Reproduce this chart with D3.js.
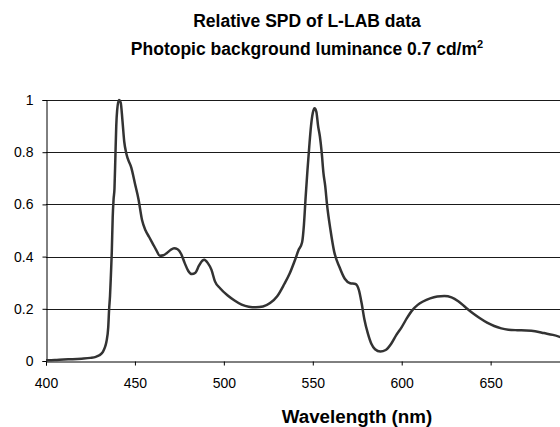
<!DOCTYPE html>
<html>
<head>
<meta charset="utf-8">
<script src="https://cdn.jsdelivr.net/npm/d3@7"></script>
<style>
  html, body { margin: 0; padding: 0; background: #fff; }
  svg { display: block; }
  text { font-family: "Liberation Sans", Arial, sans-serif; fill: #000; }
</style>
</head>
<body>
<svg id="chart" width="560" height="427"></svg>
<script>
const titleLine1 = "Relative SPD of L-LAB data";
const titleLine2 = "Photopic background luminance 0.7 cd/m";
const xAxisTitle = "Wavelength (nm)";
const xTicks = [400, 450, 500, 550, 600, 650];
const yTicks = [0, 0.2, 0.4, 0.6, 0.8, 1];
const wavelength = [400,405,410,415,420,425,428,430,432,433,434,435,435.5,436,436.5,437,437.5,438,438.5,439,439.5,440,441,442,443,444,445,446,448,450,452,454,456,458,460,462,464,466,468,470,472,474,476,478,480,482,484,486,488,489,491,493,495,498,502,506,510,514,518,522,526,530,534,537,540,542,544,545,546,547,548,549,550,551,552,553,554,555,556,557,558,560,562,565,568,571,574,576,577.5,579,581,583,585,588,591,594,597,600,603,606,609,612,616,620,624,628,632,636,640,644,648,652,656,660,665,670,675,680,685,690];
const spd = [0.003,0.004,0.006,0.007,0.009,0.012,0.016,0.022,0.035,0.05,0.075,0.13,0.2,0.25,0.33,0.42,0.55,0.62,0.66,0.78,0.9,0.96,1.0,0.99,0.92,0.84,0.8,0.775,0.74,0.68,0.62,0.54,0.5,0.475,0.45,0.425,0.403,0.405,0.414,0.425,0.432,0.428,0.41,0.375,0.345,0.333,0.338,0.365,0.385,0.388,0.375,0.35,0.305,0.278,0.252,0.232,0.216,0.208,0.206,0.209,0.222,0.248,0.295,0.335,0.387,0.425,0.455,0.52,0.63,0.73,0.82,0.9,0.95,0.968,0.955,0.9,0.86,0.8,0.72,0.67,0.6,0.5,0.42,0.36,0.315,0.298,0.295,0.27,0.22,0.16,0.105,0.065,0.045,0.036,0.042,0.065,0.1,0.13,0.165,0.195,0.215,0.228,0.24,0.247,0.249,0.244,0.228,0.205,0.183,0.164,0.147,0.134,0.125,0.12,0.118,0.117,0.114,0.107,0.1,0.09];

(function () {
const svg = d3.select("#chart");
const mLeft = 46, mRight = 560, mTop = 100, mBottom = 361;

const x = d3.scaleLinear().domain([400, 689]).range([mLeft, mRight]);
const y = d3.scaleLinear().domain([0, 1]).range([mBottom, mTop]);

// gridlines
svg.append("g").selectAll("line").data(yTicks.filter(d => d > 0)).join("line")
  .attr("x1", mLeft).attr("x2", mRight)
  .attr("y1", d => Math.round(y(d)) + 0.5).attr("y2", d => Math.round(y(d)) + 0.5)
  .attr("stroke", "#1a1a1a").attr("stroke-width", 1);

// y axis
const yAxis = svg.append("g").attr("transform", `translate(${mLeft + 0.5},0)`)
  .call(d3.axisLeft(y).tickValues(yTicks).tickSize(4).tickPadding(9).tickFormat(d3.format("~g")));
yAxis.select(".domain").attr("stroke", "#000");
yAxis.selectAll(".tick line").attr("stroke", "#000");
yAxis.selectAll("text").attr("font-size", "14px").attr("font-family", "Liberation Sans, Arial, sans-serif").attr("fill", "#000");

// x axis
const xAxis = svg.append("g").attr("transform", `translate(0,${mBottom + 0.5})`)
  .call(d3.axisBottom(x).tickValues(xTicks).tickSize(4).tickPadding(13).tickFormat(d3.format("d")));
xAxis.select(".domain").attr("stroke", "#000");
xAxis.selectAll(".tick line").attr("stroke", "#000");
xAxis.selectAll("text").attr("font-size", "14px").attr("font-family", "Liberation Sans, Arial, sans-serif").attr("fill", "#000");

// curve
const pts = wavelength.map((w, i) => [w, spd[i]]);
svg.append("path").datum(pts)
  .attr("fill", "none").attr("stroke", "#333").attr("stroke-width", 2.5)
  .attr("stroke-linejoin", "round")
  .attr("d", d3.line().x(d => x(d[0])).y(d => y(d[1])).curve(d3.curveMonotoneX));

// titles
svg.append("text").attr("x", 307).attr("y", 27).attr("text-anchor", "middle")
  .attr("font-size", "17.5px").attr("font-weight", "bold").text(titleLine1);
const t2 = svg.append("text").attr("x", 307).attr("y", 55).attr("text-anchor", "middle")
  .attr("font-size", "17.5px").attr("font-weight", "bold");
t2.append("tspan").text(titleLine2);
t2.append("tspan").attr("dy", -7).attr("font-size", "11px").text("2");

svg.append("text").attr("x", 357).attr("y", 423).attr("text-anchor", "middle")
  .attr("font-size", "18.8px").attr("font-weight", "bold").text(xAxisTitle);
})();
</script>
</body>
</html>
